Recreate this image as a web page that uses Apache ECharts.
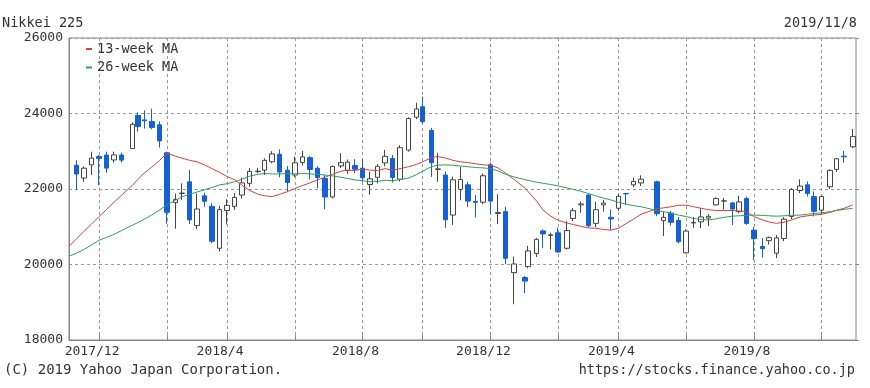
<!DOCTYPE html>
<html><head><meta charset="utf-8">
<script src="https://cdn.jsdelivr.net/npm/echarts@6/dist/echarts.min.js"></script>
<style>html,body{margin:0;padding:0;background:#fff}#c{width:870px;height:388px}</style>
</head><body><div id="c"></div>
<script>
// week dates (first trading day of each week)
const weeks = ['2017-11-06','2017-11-13','2017-11-20','2017-11-27','2017-12-04','2017-12-11','2017-12-18','2017-12-25',
'2018-01-04','2018-01-09','2018-01-15','2018-01-22','2018-01-29','2018-02-05','2018-02-13','2018-02-19','2018-02-26',
'2018-03-05','2018-03-12','2018-03-19','2018-03-26','2018-04-02','2018-04-09','2018-04-16','2018-04-23','2018-05-01',
'2018-05-07','2018-05-14','2018-05-21','2018-05-28','2018-06-04','2018-06-11','2018-06-18','2018-06-25','2018-07-02',
'2018-07-09','2018-07-17','2018-07-23','2018-07-30','2018-08-06','2018-08-13','2018-08-20','2018-08-27','2018-09-03',
'2018-09-10','2018-09-18','2018-09-25','2018-10-01','2018-10-09','2018-10-15','2018-10-22','2018-10-29','2018-11-05',
'2018-11-12','2018-11-19','2018-11-26','2018-12-03','2018-12-10','2018-12-17','2018-12-25','2019-01-04','2019-01-07',
'2019-01-15','2019-01-21','2019-01-28','2019-02-04','2019-02-12','2019-02-18','2019-02-25','2019-03-04','2019-03-11',
'2019-03-18','2019-03-25','2019-04-01','2019-04-08','2019-04-15','2019-04-22','2019-05-07','2019-05-13','2019-05-20',
'2019-05-27','2019-06-03','2019-06-10','2019-06-17','2019-06-24','2019-07-01','2019-07-08','2019-07-16','2019-07-22',
'2019-07-29','2019-08-05','2019-08-13','2019-08-19','2019-08-26','2019-09-02','2019-09-09','2019-09-17','2019-09-24',
'2019-09-30','2019-10-07','2019-10-15','2019-10-21','2019-10-28','2019-11-05'];

const open = [null,22630,22290,22640,22860,22900,22770,22900,
23073,23950,23830,23790,23700,22960,21640,21880,22190,
21030,21820,21540,20430,21430,21540,21840,22150,22460,
22500,22720,22920,22500,22370,22700,22830,22550,22280,
21790,22610,22490,22620,22550,22120,22310,22690,22810,
22260,23030,23900,24180,23550,22520,22370,21310,21990,
22110,21670,21650,22640,21350,21400,19785,19655,19944,
20290,20890,20770,20840,20430,21220,21580,21840,21090,
21580,21250,21490,21880,22110,22160,22190,21160,21360,
21170,20310,21100,21130,21230,21580,21680,21630,21400,
21750,20910,20480,20630,20300,20690,21270,21960,22110,
21800,21440,22060,22520,22870,23120];

const close = [null,22397,22551,22819,22811,22553,22902,22765,
23714,23653,23808,23631,23274,21382,21720,21892,21182,
21469,21676,20617,21454,21567,21778,22162,22467,22472,
22758,22930,22450,22171,22694,22851,22516,22305,21788,
22597,22698,22712,22525,22298,22270,22601,22865,22307,
23094,23869,24120,23783,22694,22532,21184,22243,22250,
21680,21646,22351,21679,21375,20166,20014,19561,20359,
20666,20810,20788,20333,20900,21426,21603,21025,21451,
21627,21206,21807,21871,22200,22259,21345,21250,21117,
20601,20885,21117,21259,21276,21746,21686,21467,21658,
21088,20685,20419,20711,20704,21200,21988,22079,21879,
21410,21799,22493,22800,22851,23392];

const low = [null,21970,22190,22370,22100,22430,22700,22700,
23073,23520,23600,23580,23100,21078,20950,21710,21070,
20937,21530,20560,20347,21060,21450,21750,22060,22420,
22370,22680,22310,21931,22310,22620,22260,22020,21462,
21750,22560,22400,22420,22190,21851,22150,22600,22172,
22200,22990,23850,23730,22323,22190,20971,21050,21700,
21520,21243,21600,21340,21070,20006,18948,19241,19900,
20200,20440,20400,20310,20400,21150,21370,20990,20990,
21400,20911,21420,21580,22050,22080,21280,20751,21030,
20560,20289,20970,20960,21020,21560,21450,21047,21360,
21050,20110,20185,20530,20173,20620,21200,21890,21800,
21276,21330,22000,22450,22700,23080];

const high = [null,22760,22600,22990,22900,22990,22990,22960,
23765,24030,24084,24129,23790,22990,21880,22150,22500,
21884,21900,21620,21550,21730,21890,22300,22550,22560,
22810,23000,23050,22610,22860,23011,22870,22600,22370,
22620,22949,22780,22790,22790,22460,22660,23032,22900,
23160,23900,24286,24448,23620,22960,22460,22330,22583,
22190,21840,22410,22700,21860,21530,20211,19692,20494,
20700,20930,20840,20980,21144,21500,21670,21860,21660,
21713,21460,21880,21900,22300,22362,22220,21400,21420,
21260,20930,21260,21490,21330,21780,21760,21660,21820,
21800,20990,20700,20740,20780,21250,22020,22255,22200,
21930,21830,22520,22820,23008,23591];

// 13-week moving average
const ma13 = [20480,20680,20880,21070,21270,21460,21650,21840,
22100,22250,22420,22580,22750,22950,22870,22820,22760,
22720,22640,22540,22440,22330,22250,22100,21960,21860,
21820,21800,21860,21930,22010,22090,22160,22240,22310,
22390,22470,22500,22490,22530,22500,22490,22540,22500,
22540,22590,22650,22720,22830,22860,22820,22760,22720,
22700,22670,22640,22630,22560,22420,22250,22030,21930,
21680,21440,21280,21170,21100,21060,21010,20970,20960,
20930,20910,20960,21080,21200,21330,21480,21500,21530,
21570,21570,21530,21490,21450,21430,21430,21430,21420,
21400,21270,21180,21130,21090,21120,21180,21260,21290,
21310,21330,21380,21440,21490,21580];

// 26-week moving average
const ma26 = [20220,20300,20400,20520,20640,20720,20800,20900,
21040,21110,21200,21310,21440,21580,21700,21790,21860,
21920,21980,22040,22110,22140,22190,22260,22340,22390,
22410,22400,22400,22410,22400,22410,22400,22390,22370,
22350,22310,22280,22240,22220,22190,22200,22230,22220,
22250,22290,22380,22470,22590,22630,22640,22630,22610,
22590,22570,22560,22540,22480,22390,22320,22250,22230,
22180,22150,22120,22080,22030,21990,21940,21880,21820,
21760,21710,21650,21600,21560,21530,21430,21400,21360,
21310,21270,21220,21190,21180,21210,21250,21280,21290,
21300,21310,21300,21290,21280,21290,21300,21310,21330,
21350,21370,21400,21430,21460,21490];

const yTicks = [18000, 20000, 22000, 24000, 26000];
const gridDates = ['2017-12-04','2018-02-05','2018-04-02','2018-06-04','2018-08-06','2018-10-01',
                   '2018-12-03','2019-02-04','2019-04-01','2019-06-03','2019-08-05','2019-10-07'];
const labelDates = ['2017-12-04','2018-04-02','2018-08-06','2018-12-03','2019-04-01','2019-08-05'];
const xRange = ['2017-11-06', '2019-11-08'];

const FONT = 'DejaVu Sans Mono';
const TXT = '#333';

function ts(s) { const p = s.split('-').map(Number); return Date.UTC(p[0], p[1] - 1, p[2]); }

const candleData = [];
weeks.forEach((d, i) => {
  if (open[i] != null) candleData.push([ts(d), open[i], close[i], low[i], high[i]]);
});
const ma13Data = weeks.map((d, i) => [ts(d), ma13[i]]);
const ma26Data = weeks.map((d, i) => [ts(d), ma26[i]]);

const chart = echarts.init(document.getElementById('c'), null, {renderer: 'canvas'});
const tStyle = {fontFamily: FONT, fontSize: 13.5, fontWeight: 'normal', color: TXT};
chart.setOption({
  animation: false,
  backgroundColor: '#fff',
  title: [
    {text: 'Nikkei 225', left: 2, top: 16, padding: 0, textStyle: tStyle},
    {text: '2019/11/8', right: 13, top: 16, padding: 0, textStyle: tStyle},
    {text: '(C) 2019 Yahoo Japan Corporation.', left: 4, top: 363, padding: 0,
     textStyle: Object.assign({}, tStyle, {fontSize: 14})},
    {text: 'https://stocks.finance.yahoo.co.jp', right: 15, top: 363, padding: 0, textStyle: tStyle}
  ],
  legend: {
    data: ['13-week MA', '26-week MA'],
    orient: 'vertical', left: 86, top: 42, padding: 0,
    icon: 'rect', itemWidth: 6, itemHeight: 2, itemGap: 4.5,
    textStyle: {fontFamily: FONT, fontSize: 13.5, color: TXT, lineHeight: 14}
  },
  grid: {left: 69, right: 14, top: 38, bottom: 48, show: true, borderColor: '#888', borderWidth: 1, backgroundColor: '#fff'},
  xAxis: {
    type: 'value', min: ts(xRange[0]), max: ts(xRange[1]),
    axisLine: {show: true, lineStyle: {color: '#888'}},
    axisTick: {show: true, inside: true, length: 5, lineStyle: {color: '#888'}, customValues: gridDates.map(ts)},
    splitLine: {show: true, lineStyle: {color: '#999', type: [3, 3], width: 1}},
    axisLabel: {
      customValues: labelDates.map(ts), margin: 5, padding: [0, 14, 0, 0],
      fontFamily: FONT, fontSize: 13, color: TXT, showMinLabel: true, showMaxLabel: true,
      formatter: function (v) { const d = new Date(v); return d.getUTCFullYear() + '/' + (d.getUTCMonth() + 1); }
    }
  },
  yAxis: [
    {
      type: 'value', min: yTicks[0], max: yTicks[yTicks.length - 1], interval: 2000,
      axisLine: {show: true, lineStyle: {color: '#888'}},
      axisTick: {show: false},
      splitLine: {show: true, lineStyle: {color: '#999', type: [3, 3], width: 1}},
      axisLabel: {margin: 6, padding: [5, 0, 0, 0], fontFamily: FONT, fontSize: 13, color: TXT, formatter: v => String(v)}
    },
    {
      type: 'value', position: 'right', min: yTicks[0], max: yTicks[yTicks.length - 1], interval: 2000,
      axisLine: {show: false}, axisLabel: {show: false}, splitLine: {show: false},
      axisTick: {show: true, length: 3, lineStyle: {color: '#888'}}
    }
  ],
  series: [
    {
      name: 'Nikkei 225', type: 'candlestick', data: candleData, barWidth: 5,
      itemStyle: {color: '#ffffff', color0: '#1460d4', borderColor: '#444', borderColor0: '#1460d4', borderWidth: 1}
    },
    {
      name: '13-week MA', type: 'line', data: ma13Data, showSymbol: false, symbol: 'none',
      color: '#d8403c', lineStyle: {color: '#d8403c', width: 1}, itemStyle: {color: '#d8403c'}
    },
    {
      name: '26-week MA', type: 'line', data: ma26Data, showSymbol: false, symbol: 'none',
      color: '#2f9e62', lineStyle: {color: '#2f9e62', width: 1}, itemStyle: {color: '#2f9e62'}
    }
  ]
});
</script>
</body></html>
